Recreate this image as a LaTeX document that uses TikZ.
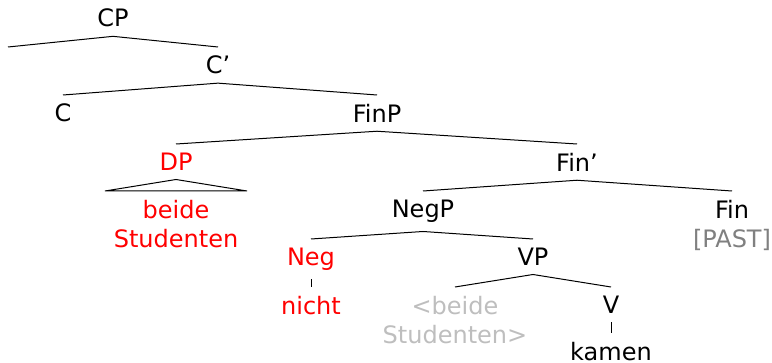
\documentclass[tikz,border=0pt]{standalone}
\usepackage{fontspec}
\setmainfont{DejaVu Sans}
\usetikzlibrary{positioning}
\definecolor{moved}{RGB}{255,0,0}
\definecolor{feature}{RGB}{128,128,128}
\definecolor{trace}{RGB}{190,190,190}

\begin{document}
\begin{tikzpicture}[x=1pt, y=-1pt, line width=1pt,
    every node/.style={font=\fontsize{24}{29}\selectfont, inner xsep=0pt, inner ysep=8.5pt, align=center},
    cat/.style={anchor=north}]
    \useasboundingbox (0,0) rectangle (772,363);
    % CP layer
    \node[anchor=base] (CP) at (113,27) {CP};
    \coordinate (spec) at (8,47);
    \node[cat] (Cbar) at (218,47) {C’};
    \draw (spec) -- (CP.south) -- (Cbar.north);
    \node[cat] (C) at (63,95) {C};
    \node[cat] (FinP) at (377,95) {FinP};
    \draw (C.north) -- (Cbar.south) -- (FinP.north);
    % FinP layer
    \node[cat, moved] (DP) at (176,144) {DP};
    \node[cat] (Finbar) at (577,144) {Fin’};
    \draw (DP.north) -- (FinP.south) -- (Finbar.north);
    \coordinate (triL) at (105,191);
    \coordinate (triR) at (247,191);
    \draw (triL) -- (DP.south) -- (triR) -- cycle;
    \node[cat, moved] (subj) at (176,191) {beide\\Studenten};
    \node[cat] (NegP) at (423,191) {NegP};
    \node[cat] (Fin) at (732,191) {Fin\\\textcolor{feature}{[PAST]}};
    \draw (NegP.north) -- (Finbar.south) -- (Fin.north);
    % NegP layer
    \node[cat, moved] (Neg) at (311,239) {Neg};
    \node[cat] (VP) at (533,239) {VP};
    \draw (Neg.north) -- (NegP.south) -- (VP.north);
    \node[cat, moved] (nicht) at (311,287) {nicht};
    \draw (Neg.south) -- (nicht.north);
    % VP layer
    \node[cat, trace] (copy) at (455,287) {<beide\\Studenten>};
    \node[cat] (V) at (611,287) {V};
    \draw (copy.north) -- (VP.south) -- (V.north);
    \node[cat] (kamen) at (611,333) {kamen};
    \draw (V.south) -- (kamen.north);
\end{tikzpicture}
\end{document}
